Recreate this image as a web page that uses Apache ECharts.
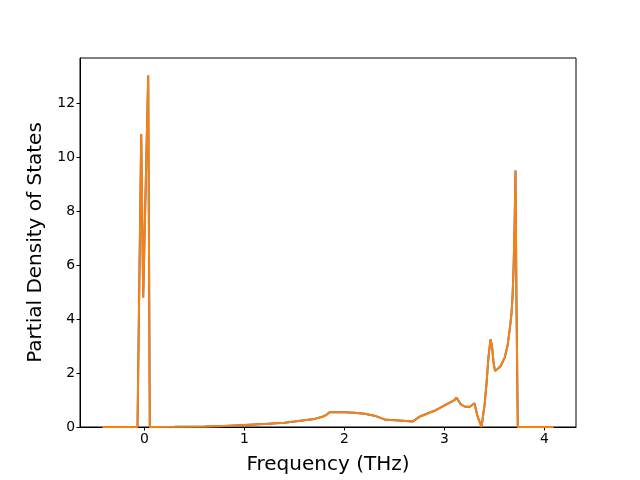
<!DOCTYPE html>
<html><head><meta charset="utf-8">
<script src="https://cdn.jsdelivr.net/npm/echarts@6/dist/echarts.min.js"></script>
<style>html,body{margin:0;padding:0;background:#fff}#c{width:640px;height:480px}</style>
</head><body><div id="c"></div>
<script>
const freq = [-0.42,-0.07,-0.063,-0.033,-0.013,0.037,0.053,0.06,0.3,0.6,0.8,1.0,1.2,1.4,1.5,1.6,1.7,1.78,1.82,1.85,2.0,2.1,2.2,2.3,2.36,2.4,2.46,2.55,2.68,2.72,2.76,2.9,3.0,3.1,3.12,3.16,3.2,3.25,3.3,3.33,3.37,3.40,3.42,3.44,3.46,3.475,3.49,3.505,3.53,3.56,3.6,3.63,3.65,3.67,3.68,3.69,3.70,3.71,3.72,3.733,3.75,4.09];
const pdosA = [0,0,0,10.85,4.8,13.02,0,0,0.005,0.02,0.04,0.07,0.11,0.16,0.2,0.25,0.3,0.38,0.45,0.55,0.55,0.53,0.49,0.42,0.34,0.28,0.26,0.24,0.2,0.3,0.4,0.6,0.8,1.0,1.09,0.85,0.76,0.74,0.88,0.4,0,0.8,1.6,2.6,3.25,3.0,2.4,2.08,2.15,2.25,2.55,3.0,3.55,4.2,4.8,5.8,7.3,9.5,4.5,0,0,0];
const pdosB = pdosA.slice();
const xTicks = [0,1,2,3,4];
const yTicks = [0,2,4,6,8,10,12];

const chart = echarts.init(document.getElementById('c'));
const font = 'DejaVu Sans';
chart.setOption({
  animation:false,
  grid:{left:80,right:64,top:58,bottom:53,show:true,borderColor:'#000',borderWidth:1},
  xAxis:{type:'value',min:-0.645,max:4.315,
    name:'Frequency (THz)',nameLocation:'middle',nameGap:28,
    nameTextStyle:{fontFamily:font,fontSize:20,color:'#000'},
    axisLine:{show:true,onZero:false,lineStyle:{color:'#000',width:1}},
    axisTick:{show:true,inside:false,length:3.5,customValues:xTicks,lineStyle:{color:'#000'}},
    axisLabel:{customValues:xTicks,fontFamily:font,fontSize:13.9,color:'#000',margin:5},
    splitLine:{show:false}},
  yAxis:{type:'value',min:0,max:13.67,
    name:'Partial Density of States',nameLocation:'middle',nameGap:34,
    nameTextStyle:{fontFamily:font,fontSize:20,color:'#000'},
    axisLine:{show:true,onZero:false,lineStyle:{color:'#000',width:1}},
    axisTick:{show:true,inside:false,length:3.5,customValues:yTicks,lineStyle:{color:'#000'}},
    axisLabel:{customValues:yTicks,fontFamily:font,fontSize:13.9,color:'#000',margin:5},
    splitLine:{show:false}},
  series:[
    {type:'line',data:freq.map((f,i)=>[f,pdosA[i]]),showSymbol:false,lineStyle:{color:'#1f77b4',width:2},itemStyle:{color:'#1f77b4'}},
    {type:'line',data:freq.map((f,i)=>[f,pdosB[i]]),showSymbol:false,lineStyle:{color:'#ff7f0e',width:2},itemStyle:{color:'#ff7f0e'}}
  ]
});
</script></body></html>
